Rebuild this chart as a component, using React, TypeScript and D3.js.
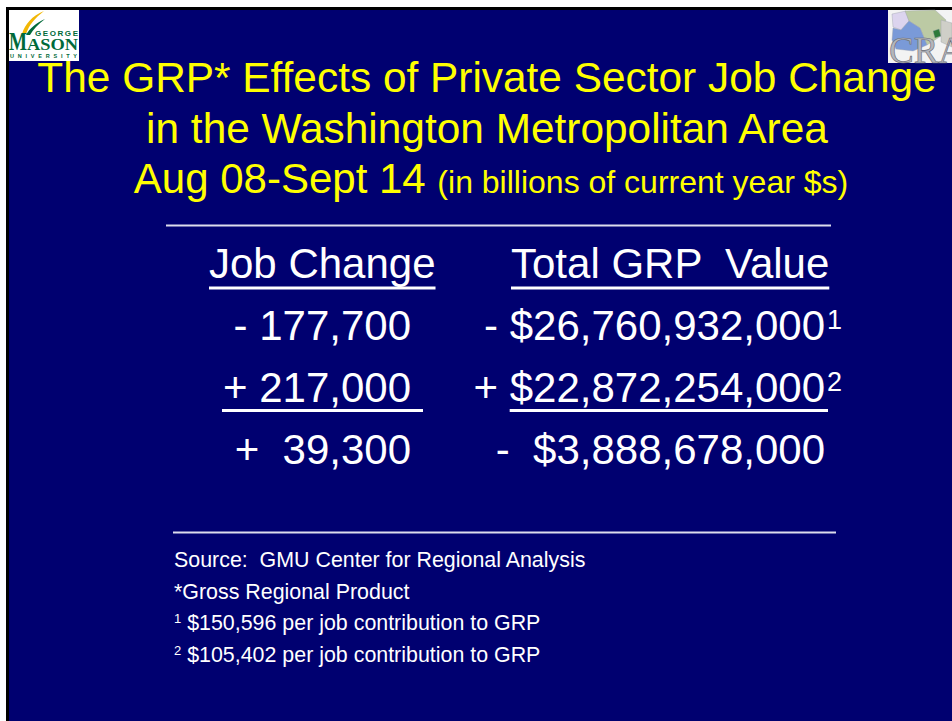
import React, { useEffect, useRef } from "react";
import * as d3 from "d3";

// slide text
const titleLines = [
  "The GRP* Effects of Private Sector Job Change",
  "in the Washington Metropolitan Area",
];
const periodLabel = "Aug 08-Sept 14";
const unitsLabel = "(in billions of current year $s)";

// table
const columnHeaders = ["Job Change", "Total GRP  Value"];
const jobChange = ["- 177,700", "+ 217,000", "+  39,300"];
const grpSign = ["- ", "+ ", "-  "];
const grpValue = ["$26,760,932,000", "$22,872,254,000", "$3,888,678,000"];
const grpNote = ["1", "2", ""];

// footnotes
const footnoteMarks = ["", "", "1", "2"];
const footnoteTexts = [
  "Source:  GMU Center for Regional Analysis",
  "*Gross Regional Product",
  " $150,596 per job contribution to GRP",
  " $105,402 per job contribution to GRP",
];

const W = 952;
const H = 721;
const NAVY = "#000070";
const YELLOW = "#ffff00";
const SANS = "'Liberation Sans', Arial, Helvetica, sans-serif";
const SERIF = "'Liberation Serif', 'Times New Roman', serif";

export default function App() {
  const ref = useRef<SVGSVGElement>(null);

  useEffect(() => {
    const svg = d3.select(ref.current);
    svg.selectAll("*").remove();

    // page + frame
    svg.append("rect").attr("width", W).attr("height", H).attr("fill", "#fff");
    svg.append("rect").attr("x", 6).attr("y", 7).attr("width", W - 6).attr("height", H - 7).attr("fill", "#000");
    svg.append("rect").attr("x", 9).attr("y", 10).attr("width", W - 9).attr("height", H - 10).attr("fill", NAVY);

    drawMasonLogo(svg);
    drawCraLogo(svg);

    // title
    const title = svg.append("g")
      .attr("font-family", SANS)
      .attr("fill", YELLOW)
      .attr("text-anchor", "middle");
    const titleY = d3.scalePoint<number>().domain([0, 1, 2]).range([92, 193]);
    titleLines.forEach((line, i) => {
      title.append("text")
        .attr("x", 487)
        .attr("y", titleY(i)!)
        .attr("font-size", 42.4)
        .text(line);
    });
    const period = title.append("text")
      .attr("x", 491)
      .attr("y", titleY(2)!)
      .attr("font-size", 42)
      .attr("xml:space", "preserve");
    period.append("tspan").text(periodLabel + " ");
    period.append("tspan").attr("font-size", 32).text(unitsLabel);

    // rules made of underscores
    const rule = (x1: number, x2: number, y: number) =>
      svg.append("line")
        .attr("x1", x1).attr("x2", x2)
        .attr("y1", y).attr("y2", y)
        .attr("stroke", "#dcdcec")
        .attr("stroke-width", 2);
    rule(166, 831, 225.5);
    rule(173, 836, 532.5);

    // table
    const table = svg.append("g")
      .attr("font-family", SANS)
      .attr("font-size", 42)
      .attr("fill", "#fff");

    const rowY = d3.scalePoint<string>()
      .domain(["header", ...jobChange.map((_, i) => String(i))])
      .range([278, 464]);

    const underline = (x1: number, x2: number, baseline: number, off: number) =>
      table.append("rect")
        .attr("x", x1)
        .attr("y", baseline + off)
        .attr("width", x2 - x1)
        .attr("height", 3)
        .attr("fill", "#fff");

    const addText = (s: string) =>
      table.append("text").attr("xml:space", "preserve").text(s);

    const textWidth = (s: string) => {
      const tmp = addText(s);
      const w = (tmp.node() as SVGTextElement).getComputedTextLength();
      tmp.remove();
      return w;
    };

    const headerX = [209, 511];
    columnHeaders.forEach((h, i) => {
      const t = addText(h)
        .attr("x", headerX[i])
        .attr("y", rowY("header")!);
      const w = (t.node() as SVGTextElement).getComputedTextLength();
      underline(headerX[i], headerX[i] + w, rowY("header")!, 8.5);
    });

    const subtotalRow = jobChange.length - 2;
    const colRight = [411, 825];

    jobChange.forEach((v, i) => {
      const y = rowY(String(i))!;
      addText(v)
        .attr("x", colRight[0])
        .attr("y", y)
        .attr("text-anchor", "end");
      if (i === subtotalRow) {
        underline(colRight[0] - textWidth(v) - 1, colRight[0] + 12, y, 7);
      }
    });

    grpValue.forEach((v, i) => {
      const y = rowY(String(i))!;
      addText(grpSign[i] + v)
        .attr("x", colRight[1])
        .attr("y", y)
        .attr("text-anchor", "end");
      if (i === subtotalRow) underline(colRight[1] - textWidth(v), colRight[1] + 3, y, 7);
      if (grpNote[i]) {
        addText(grpNote[i])
          .attr("x", colRight[1] + 2)
          .attr("y", y - 11)
          .attr("font-size", 27);
      }
    });

    // footnotes
    const notes = svg.append("g")
      .attr("font-family", SANS)
      .attr("font-size", 21.4)
      .attr("fill", "#fff");
    const noteY = d3.scalePoint<number>()
      .domain(footnoteTexts.map((_, i) => i))
      .range([567, 662]);
    footnoteTexts.forEach((txt, i) => {
      const t = notes.append("text")
        .attr("xml:space", "preserve")
        .attr("x", 174)
        .attr("y", noteY(i)!);
      if (footnoteMarks[i]) {
        t.append("tspan").attr("font-size", 13).attr("dy", -7).text(footnoteMarks[i]);
        t.append("tspan").attr("dy", 7).text(txt);
      } else {
        t.text(txt);
      }
    });
  }, []);

  return (
    <div style={{ position: "absolute", left: 0, top: 0 }}>
      <svg ref={ref} width={W} height={H} style={{ display: "block" }} />
    </div>
  );
}

function drawMasonLogo(svg: d3.Selection<SVGSVGElement | null, unknown, null, undefined>) {
  const g = svg.append("g");
  const green = "#006a3a";
  g.append("rect").attr("x", 9).attr("y", 10).attr("width", 70).attr("height", 51).attr("fill", "#fff");
  g.append("path")
    .attr("d", "M22,34 C25,24 32,16 44,11 C35,18 29,25 26,34 Z")
    .attr("fill", "#f2b705");
  g.append("path")
    .attr("d", "M26,35 C30,28 36,23 45,19 C38,24 33,30 30,35 Z")
    .attr("fill", green);
  g.append("text")
    .attr("x", 35).attr("y", 36)
    .attr("font-family", SANS).attr("font-weight", "bold").attr("font-size", 8)
    .attr("textLength", 43).attr("lengthAdjust", "spacing")
    .attr("fill", green).text("GEORGE");
  g.append("text")
    .attr("x", 9).attr("y", 50)
    .attr("font-family", SERIF).attr("font-weight", "bold").attr("font-size", 26)
    .attr("textLength", 18).attr("lengthAdjust", "spacingAndGlyphs")
    .attr("fill", green).text("M");
  g.append("text")
    .attr("x", 27).attr("y", 50)
    .attr("font-family", SERIF).attr("font-weight", "bold").attr("font-size", 16)
    .attr("textLength", 51).attr("lengthAdjust", "spacingAndGlyphs")
    .attr("fill", green).text("ASON");
  g.append("text")
    .attr("x", 10).attr("y", 58)
    .attr("font-family", SANS).attr("font-weight", "bold").attr("font-size", 5.5)
    .attr("textLength", 67).attr("lengthAdjust", "spacing")
    .attr("fill", green).text("UNIVERSITY");
}

function drawCraLogo(svg: d3.Selection<SVGSVGElement | null, unknown, null, undefined>) {
  const g = svg.append("g");
  g.append("rect").attr("x", 888).attr("y", 10).attr("width", 64).attr("height", 53).attr("fill", "#f3f3f3");
  const shapes: [string, string][] = [
    ["M892,14 L906,11 L909,21 L901,30 L893,27 Z", "#dcd4ee"],
    ["M905,11 L935,10 L946,20 L941,36 L927,45 L920,28 L909,21 Z", "#bccaa4"],
    ["M893,28 L901,30 L909,21 L920,28 L927,45 L913,51 L896,49 L892,40 Z", "#7a9ad8"],
    ["M933,31 L939,29 L941,36 L935,38 Z", "#2d7a3a"],
    ["M941,20 L952,23 L952,47 L941,42 Z", "#cfcfc8"],
  ];
  shapes.forEach(([d, c]) => g.append("path").attr("d", d).attr("fill", c).attr("stroke", "#9aa0a8").attr("stroke-width", 0.4));
  g.append("text")
    .attr("x", 889).attr("y", 63)
    .attr("font-family", SERIF).attr("font-size", 37)
    .attr("fill", "#b4b6bc").attr("stroke", "#6a6c74").attr("stroke-width", 0.6)
    .text("CRA");
}
